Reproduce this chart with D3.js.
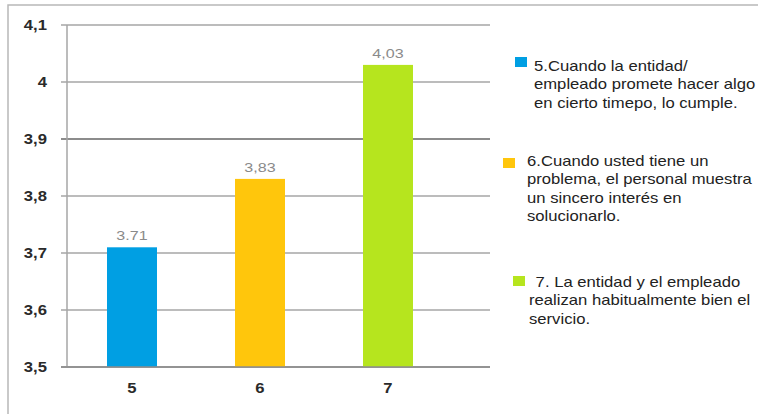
<!DOCTYPE html>
<html>
<head>
<meta charset="utf-8">
<script src="https://cdn.jsdelivr.net/npm/d3@7"></script>
<style>
  html, body { margin: 0; padding: 0; background: #fff; }
  svg { display: block; }
  text { font-family: "Liberation Sans", Arial, sans-serif; }
</style>
</head>
<body>
<svg id="chart" width="758" height="414"></svg>
<script>
var categories = ["5", "6", "7"];
var values = [3.71, 3.83, 4.03];
var valueLabels = ["3.71", "3,83", "4,03"];
var colors = ["#009fe3", "#ffc60c", "#b6e51e"];
var yTicks = [3.5, 3.6, 3.7, 3.8, 3.9, 4.0, 4.1];
var yTickLabels = ["3,5", "3,6", "3,7", "3,8", "3,9", "4", "4,1"];
var legendLines = [
  ["5.Cuando la entidad/", "empleado promete hacer algo", "en cierto timepo, lo cumple."],
  ["6.Cuando usted tiene un", "problema, el personal muestra", "un sincero interés en", "solucionarlo."],
  [" 7. La entidad y el empleado", "realizan habitualmente bien el", "servicio."]
];

var stretch = 1.19;
var svg = d3.select("#chart");

// outer frame
svg.append("rect")
  .attr("x", 8).attr("y", 5)
  .attr("width", 780).attr("height", 430)
  .attr("fill", "none")
  .attr("stroke", "#b8b8b8")
  .attr("stroke-width", 1.5);

var y = d3.scaleLinear().domain([3.5, 4.1]).range([367, 25]);
var x = d3.scaleBand().domain(categories).range([68, 452]);
var barW = 50;

function stext(sel, px, py) {
  return sel.attr("transform", "translate(" + px + "," + py + ") scale(" + stretch + ",1)");
}

// gridlines
svg.append("g").selectAll("line")
  .data(yTicks)
  .enter()
  .append("line")
  .attr("x1", 61).attr("x2", 490)
  .attr("y1", function(d) { return y(d); })
  .attr("y2", function(d) { return y(d); })
  .attr("stroke", function(d) { return d === 3.9 || d === 3.5 ? "#8c8c8c" : "#a6a6a6"; })
  .attr("stroke-width", function(d) { return d === 3.9 ? 2 : 1.5; });

// y axis line
svg.append("line")
  .attr("x1", 67).attr("x2", 67)
  .attr("y1", y(4.1)).attr("y2", y(3.5))
  .attr("stroke", "#a6a6a6")
  .attr("stroke-width", 1.5);

// y tick labels
svg.append("g").selectAll("text")
  .data(yTicks)
  .enter()
  .append("text")
  .each(function(d, i) { stext(d3.select(this), 47, y(d) + 5); })
  .attr("text-anchor", "end")
  .attr("font-size", "14px")
  .attr("font-weight", "bold")
  .attr("fill", "#2a2a2a")
  .text(function(d, i) { return yTickLabels[i]; });

// bars
svg.append("g").selectAll("rect")
  .data(values)
  .enter()
  .append("rect")
  .attr("x", function(d, i) { return x(categories[i]) + x.bandwidth() / 2 - barW / 2; })
  .attr("y", function(d) { return y(d); })
  .attr("width", barW)
  .attr("height", function(d) { return y(3.5) - y(d); })
  .attr("fill", function(d, i) { return colors[i]; });

// baseline over bars
svg.append("line")
  .attr("x1", 61).attr("x2", 490)
  .attr("y1", y(3.5)).attr("y2", y(3.5))
  .attr("stroke", "#8c8c8c")
  .attr("stroke-width", 1.5);

// value labels
svg.append("g").selectAll("text")
  .data(values)
  .enter()
  .append("text")
  .each(function(d, i) { stext(d3.select(this), x(categories[i]) + x.bandwidth() / 2, y(d) - 7); })
  .attr("text-anchor", "middle")
  .attr("font-size", "13.5px")
  .attr("fill", "#8a8a8a")
  .text(function(d, i) { return valueLabels[i]; });

// x labels
svg.append("g").selectAll("text")
  .data(categories)
  .enter()
  .append("text")
  .each(function(d) { stext(d3.select(this), x(d) + x.bandwidth() / 2, 393); })
  .attr("text-anchor", "middle")
  .attr("font-size", "14px")
  .attr("font-weight", "bold")
  .attr("fill", "#2a2a2a")
  .text(function(d) { return d; });

// legend
var legendPos = [
  {sx: 515, sy: 57, tx: 534, tx2: 534, ty: 71},
  {sx: 503, sy: 158, tx: 527, tx2: 527, ty: 166},
  {sx: 513, sy: 276, tx: 531, tx2: 529, ty: 287}
];
var lg = svg.append("g");
legendLines.forEach(function(lines, i) {
  var p = legendPos[i];
  lg.append("rect")
    .attr("x", p.sx).attr("y", p.sy)
    .attr("width", 12).attr("height", 10)
    .attr("fill", colors[i]);
  lines.forEach(function(t, j) {
    var tx = lg.append("text")
      .attr("font-size", "14px")
      .attr("fill", "#222")
      .attr("xml:space", "preserve")
      .style("white-space", "pre")
      .text(t);
    stext(tx, j === 0 ? p.tx : p.tx2, p.ty + j * 18.3);
  });
});
</script>
</body>
</html>
